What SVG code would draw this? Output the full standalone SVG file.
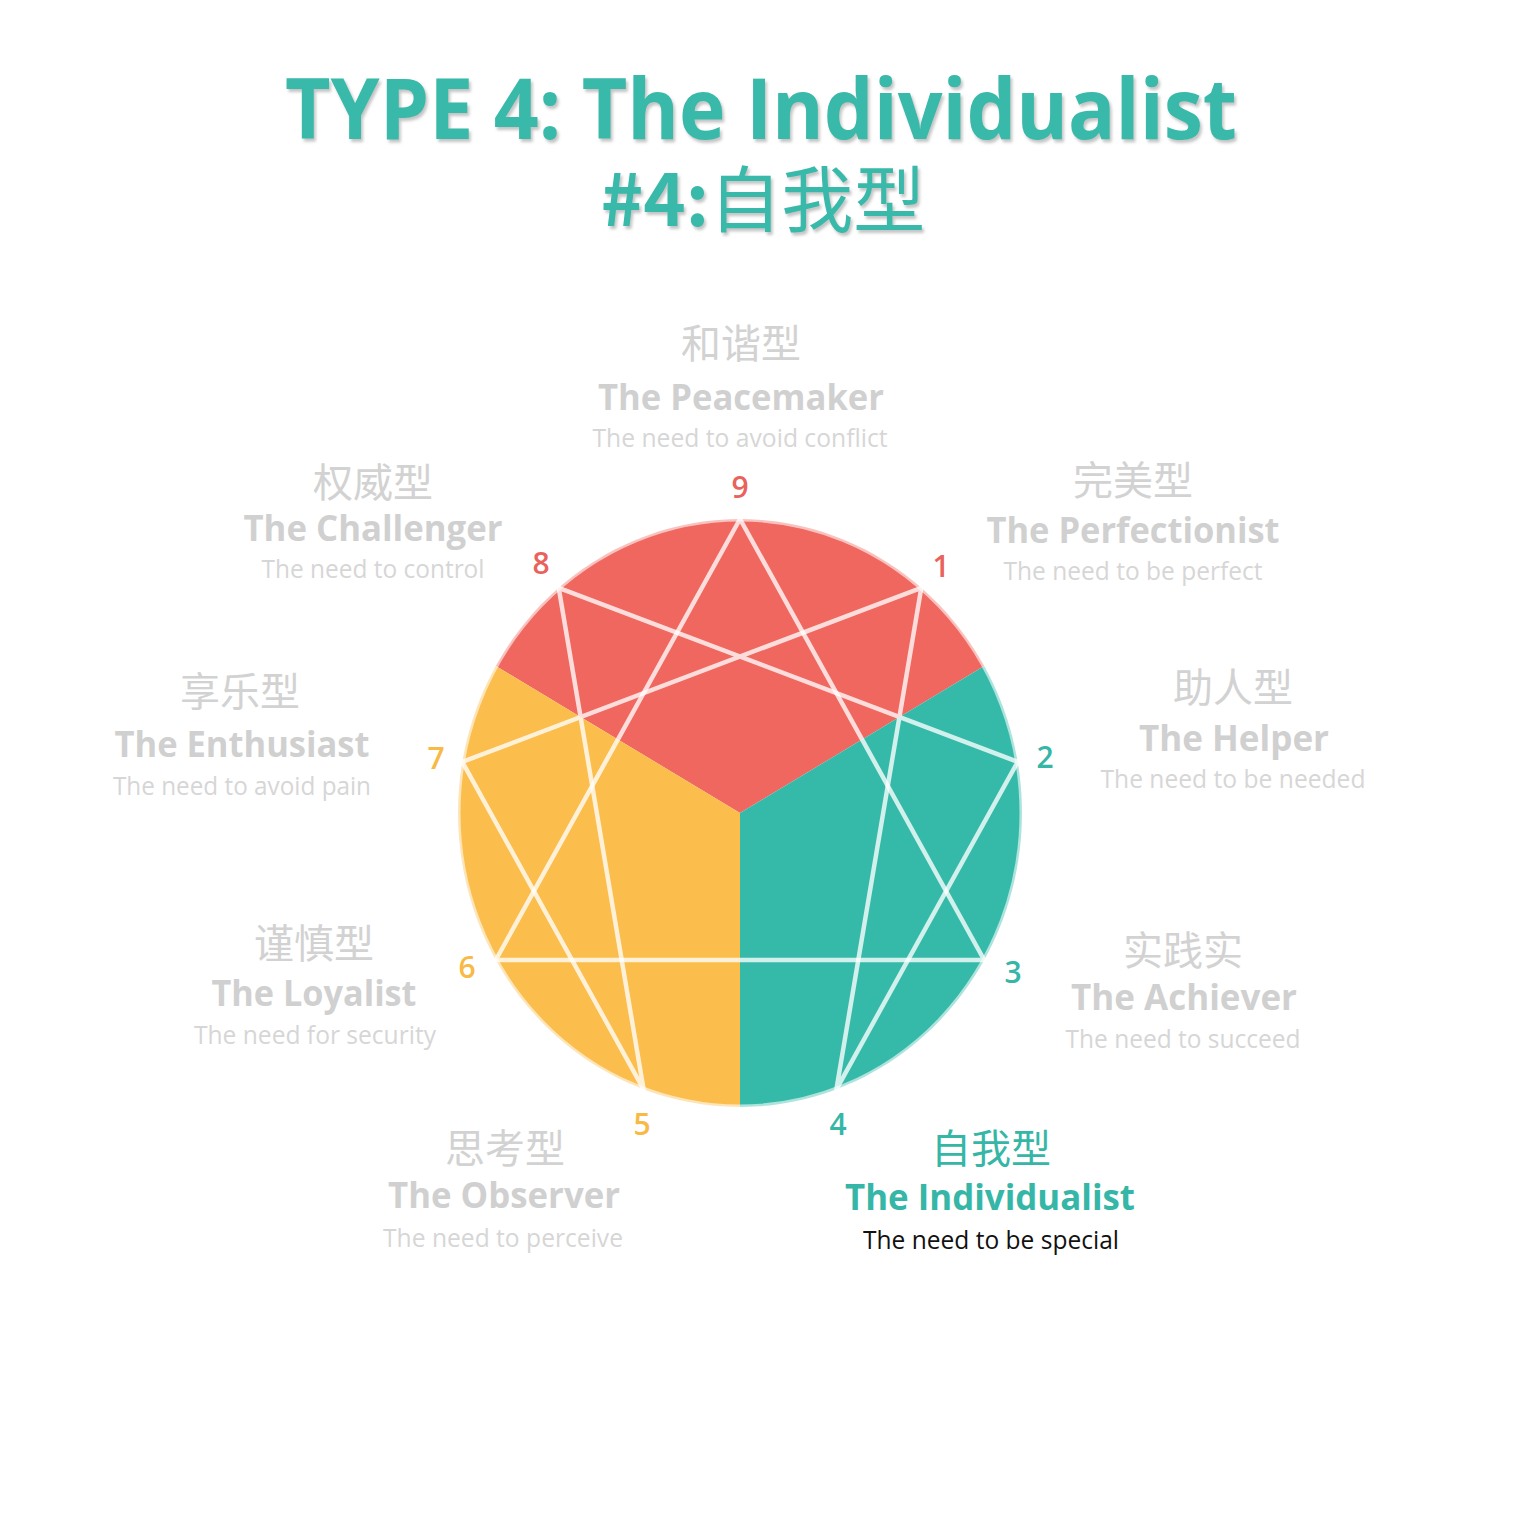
<svg xmlns="http://www.w3.org/2000/svg" width="1520" height="1520" viewBox="0 0 1520 1520">
  <style>
    .cjk { font-family: "Noto Sans CJK SC", "Noto Sans", sans-serif; font-size: 40px; fill: #D2D2D2; text-anchor: middle; }
    .name { font-family: "Open Sans", "Noto Sans", sans-serif; font-weight: 700; font-size: 35px; fill: #D0D0D0; text-anchor: middle; }
    .need { font-family: "Open Sans", "Noto Sans", sans-serif; font-size: 26px; fill: #D6D6D6; text-anchor: middle; }
    .num { font-family: "Open Sans", "Noto Sans", sans-serif; font-size: 30px; font-weight: 600; text-anchor: middle; }
    .red { fill: #E9625B; }
    .teal { fill: #35B6A6; }
    .yel { fill: #F8B945; }
    .conn { stroke: #ffffff; stroke-opacity: 0.78; stroke-width: 4.5; fill: none; stroke-linejoin: round; }
  </style>
  <defs>
    <filter id="shadow" x="-5%" y="-20%" width="110%" height="150%">
      <feDropShadow dx="2" dy="3" stdDeviation="1.5" flood-color="#7a7a7a" flood-opacity="0.45"/>
    </filter>
  </defs>
  <rect width="1520" height="1520" fill="#ffffff"/>

  <g id="title" filter="url(#shadow)">
    <text x="761" y="139" font-family="Open Sans, Noto Sans, sans-serif" font-weight="700" font-size="84" fill="#38B9A9" text-anchor="middle" textLength="952" lengthAdjust="spacingAndGlyphs">TYPE 4: The Individualist</text>
    <text x="763" y="226" font-size="72" fill="#38B9A9" text-anchor="middle" font-family="Noto Sans CJK SC, sans-serif"><tspan font-weight="700">#4:</tspan><tspan>自我型</tspan></text>
  </g>

  <g id="enneagram">
    <path d="M740,813 L495.8,666 A282,294 0 0 1 984.2,666 Z" fill="#F0675F"/>
    <path d="M740,813 L984.2,666 A282,294 0 0 1 740,1107 Z" fill="#35BAAA"/>
    <path d="M740,813 L740,1107 A282,294 0 0 1 495.8,666 Z" fill="#FBBD4C"/>
    <ellipse cx="740" cy="813" rx="282" ry="294" fill="none" stroke="#ffffff" stroke-opacity="0.6" stroke-width="5"/>
  </g>

  <g id="connectors">
    <polygon class="conn" points="740,519 984.2,960 495.8,960"/>
    <polygon class="conn" points="921.3,587.8 836.4,1089.3 1017.7,761.9 558.7,587.8 643.6,1089.3 462.3,761.9"/>
  </g>

  <g id="node9">
    <text class="num red" x="740" y="498">9</text>
    <text class="cjk" x="741" y="358">和谐型</text>
    <text class="name" x="741" y="410" textLength="286" lengthAdjust="spacingAndGlyphs">The Peacemaker</text>
    <text class="need" x="740" y="447" textLength="295" lengthAdjust="spacingAndGlyphs">The need to avoid conflict</text>
  </g>
  <g id="node8">
    <text class="num red" x="541" y="574">8</text>
    <text class="cjk" x="373" y="497">权威型</text>
    <text class="name" x="373" y="541" textLength="259" lengthAdjust="spacingAndGlyphs">The Challenger</text>
    <text class="need" x="373" y="578" textLength="223" lengthAdjust="spacingAndGlyphs">The need to control</text>
  </g>
  <g id="node1">
    <text class="num red" x="941" y="577">1</text>
    <text class="cjk" x="1133" y="495">完美型</text>
    <text class="name" x="1133" y="543" textLength="293" lengthAdjust="spacingAndGlyphs">The Perfectionist</text>
    <text class="need" x="1133" y="580" textLength="259" lengthAdjust="spacingAndGlyphs">The need to be perfect</text>
  </g>
  <g id="node2">
    <text class="num teal" x="1045" y="768">2</text>
    <text class="cjk" x="1233" y="702">助人型</text>
    <text class="name" x="1234" y="751" textLength="190" lengthAdjust="spacingAndGlyphs">The Helper</text>
    <text class="need" x="1233" y="788" textLength="265" lengthAdjust="spacingAndGlyphs">The need to be needed</text>
  </g>
  <g id="node3">
    <text class="num teal" x="1013" y="983">3</text>
    <text class="cjk" x="1183" y="965">实践实</text>
    <text class="name" x="1184" y="1010" textLength="226" lengthAdjust="spacingAndGlyphs">The Achiever</text>
    <text class="need" x="1183" y="1048" textLength="235" lengthAdjust="spacingAndGlyphs">The need to succeed</text>
  </g>
  <g id="node4">
    <text class="num teal" x="838" y="1135">4</text>
    <text class="cjk" x="991" y="1163" style="fill:#35B6A6">自我型</text>
    <text class="name" x="990" y="1210" style="fill:#35B6A6" textLength="290" lengthAdjust="spacingAndGlyphs">The Individualist</text>
    <text class="need" x="991" y="1249" style="fill:#111111" textLength="256" lengthAdjust="spacingAndGlyphs">The need to be special</text>
  </g>
  <g id="node5">
    <text class="num yel" x="642" y="1135">5</text>
    <text class="cjk" x="505" y="1163">思考型</text>
    <text class="name" x="504" y="1208" textLength="232" lengthAdjust="spacingAndGlyphs">The Observer</text>
    <text class="need" x="503" y="1247" textLength="240" lengthAdjust="spacingAndGlyphs">The need to perceive</text>
  </g>
  <g id="node6">
    <text class="num yel" x="467" y="978">6</text>
    <text class="cjk" x="314" y="958">谨慎型</text>
    <text class="name" x="314" y="1006" textLength="205" lengthAdjust="spacingAndGlyphs">The Loyalist</text>
    <text class="need" x="315" y="1044" textLength="242" lengthAdjust="spacingAndGlyphs">The need for security</text>
  </g>
  <g id="node7">
    <text class="num yel" x="436" y="769">7</text>
    <text class="cjk" x="240" y="706">享乐型</text>
    <text class="name" x="242" y="757" textLength="255" lengthAdjust="spacingAndGlyphs">The Enthusiast</text>
    <text class="need" x="242" y="795" textLength="258" lengthAdjust="spacingAndGlyphs">The need to avoid pain</text>
  </g>
</svg>
